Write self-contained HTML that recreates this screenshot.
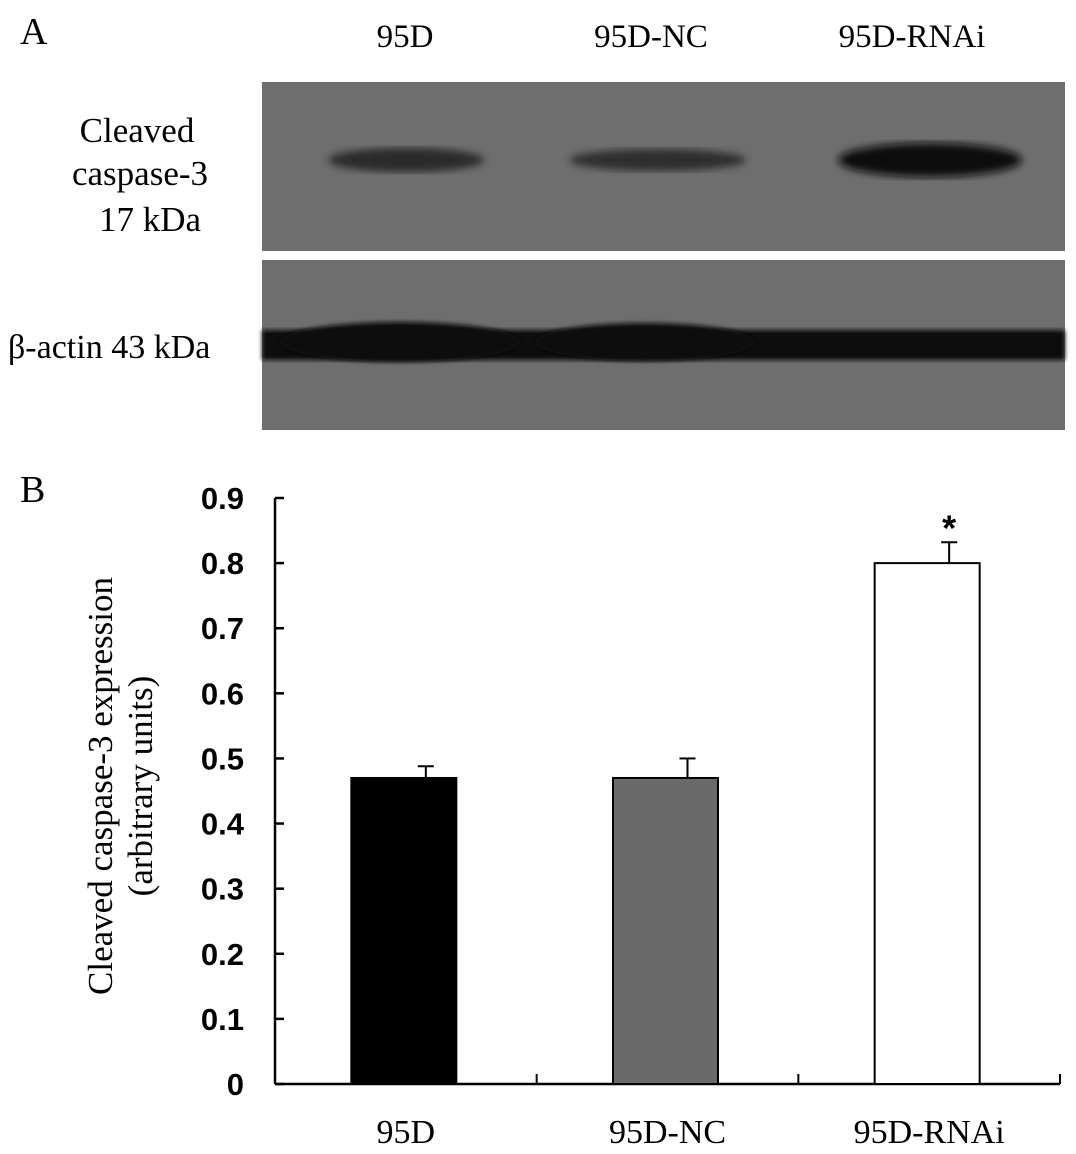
<!DOCTYPE html>
<html><head><meta charset="utf-8"><style>
body{margin:0;background:#fff;width:1076px;height:1149px;overflow:hidden;font-family:"Liberation Serif",serif}
</style></head><body>
<svg width="1076" height="1149" xmlns="http://www.w3.org/2000/svg">
<defs>
<filter id="blur"><feGaussianBlur stdDeviation="4"/></filter>
<filter id="blur2"><feGaussianBlur stdDeviation="2"/></filter>
</defs>
<text x="20" y="44" font-size="38" font-family="Liberation Serif">A</text>
<text x="405" y="47" font-size="33" text-anchor="middle" font-family="Liberation Serif">95D</text>
<text x="651" y="47" font-size="33" text-anchor="middle" font-family="Liberation Serif">95D-NC</text>
<text x="912" y="47" font-size="33" text-anchor="middle" font-family="Liberation Serif">95D-RNAi</text>
<g>
<rect x="262" y="82" width="803" height="169" fill="#6e6e6e"/>
<ellipse cx="406" cy="160" rx="78" ry="12" fill="#2a2a2a" filter="url(#blur)"/>
<ellipse cx="658" cy="160" rx="88" ry="11" fill="#2e2e2e" filter="url(#blur)"/>
<ellipse cx="930" cy="160" rx="92" ry="17" fill="#111" filter="url(#blur)"/>
</g>
<text x="137" y="142" font-size="35" text-anchor="middle">Cleaved</text>
<text x="140" y="185" font-size="35" text-anchor="middle">caspase-3</text>
<text x="150" y="231" font-size="35" text-anchor="middle">17 kDa</text>
<g>
<rect x="262" y="260" width="803" height="170" fill="#6e6e6e"/>
<rect x="262" y="330" width="803" height="30" fill="#111" filter="url(#blur2)"/>
<ellipse cx="400" cy="342" rx="120" ry="20" fill="#111" filter="url(#blur2)"/>
<ellipse cx="645" cy="342" rx="110" ry="19" fill="#111" filter="url(#blur2)"/>
</g>
<text x="8" y="358" font-size="34">β-actin 43 kDa</text>
<text x="20" y="502" font-size="38">B</text>
<text transform="translate(112,786) rotate(-90)" font-size="35" text-anchor="middle">Cleaved caspase-3 expression</text>
<text transform="translate(152,786) rotate(-90)" font-size="35" text-anchor="middle">(arbitrary units)</text>
<g id="chart"></g>
</svg>
<script>
const categories=["95D","95D-NC","95D-RNAi"];
const values=[0.47,0.47,0.80];
const errors=[0.018,0.03,0.032];
const colors=["#000","#6a6a6a","#fff"];
const ticks=[0,0.1,0.2,0.3,0.4,0.5,0.6,0.7,0.8,0.9];
const NS="http://www.w3.org/2000/svg";
const g=document.getElementById('chart');
const x0=275,x1=1060,y0=1084,yTop=498;
const y=v=>y0-(v/0.9)*(y0-yTop);
const band=(x1-x0)/categories.length;
const xc=i=>x0+band*(i+0.5)-2;
function mk(t,a){const e=document.createElementNS(NS,t);for(const k in a)e.setAttribute(k,a[k]);g.appendChild(e);return e;}
let e=mk('line',{x1:x0,y1:yTop,x2:x0,y2:y0,stroke:'#000','stroke-width':2.5});


e=mk('line',{x1:x0,y1:y0,x2:x1,y2:y0,stroke:'#000','stroke-width':2.5});


ticks.forEach(t=>{
 let l=mk('line',{x1:x0,y1:y(t),x2:x0+9,y2:y(t),stroke:'#000','stroke-width':2.5});
 
 
 let tx=mk('text',{x:244,y:y(t)+11,'font-size':31,'font-weight':'bold','text-anchor':'end','font-family':'Liberation Sans'});
 tx.textContent=t===0?'0':t.toFixed(1);
 
 
});
for(let i=1;i<=categories.length;i++){
 let l=mk('line',{x1:x0+band*i,y1:y0,x2:x0+band*i,y2:y0-10,stroke:'#000','stroke-width':2});
 
 
}
const bw=105;
categories.forEach((c,i)=>{
 const cx=xc(i);
 let el=mk('line',{x1:cx+22,y1:y(values[i]),x2:cx+22,y2:y(values[i]+errors[i]),stroke:'#000','stroke-width':2});
 
 
 el=mk('line',{x1:cx+14,y1:y(values[i]+errors[i]),x2:cx+30,y2:y(values[i]+errors[i]),stroke:'#000','stroke-width':2});
 
 
 let r=mk('rect',{x:cx-bw/2,y:y(values[i]),width:bw,height:y0-y(values[i]),fill:colors[i],stroke:'#000','stroke-width':2});
 
 
 let t=mk('text',{x:cx+2,y:1143,'font-size':34,'text-anchor':'middle','font-family':'Liberation Serif'});
 t.textContent=c;
 
 
});
let s=mk('text',{x:xc(2)+22,y:y(values[2]+errors[2])-2,'font-size':36,'font-weight':'bold','text-anchor':'middle','font-family':'Liberation Sans'});
s.textContent='*';


</script>
</body></html>
